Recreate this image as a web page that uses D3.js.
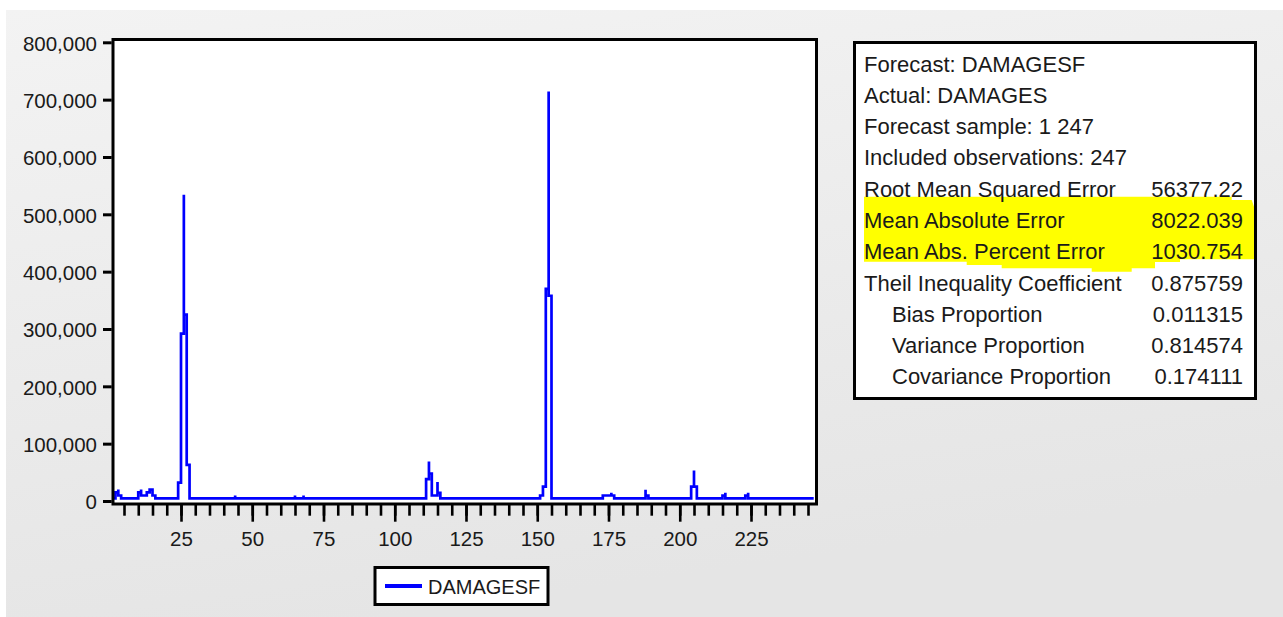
<!DOCTYPE html>
<html>
<head>
<meta charset="utf-8">
<script src="https://cdn.jsdelivr.net/npm/d3@7"></script>
<style>
  html, body { margin: 0; padding: 0; background: #ffffff; }
  text { font-family: "Liberation Sans", Arial, sans-serif; }
</style>
</head>
<body>
<div id="chart"></div>
<script>
// Size of the picture
const width = 1283;
const height = 617;

// Forecast series DAMAGESF, observations 1..247
const observations = d3.range(1, 248);
const damagesf = [
  4700, 15000, 20000, 9600, 4700, 4700, 4700, 4700, 4700, 15000,
  20000, 9600, 15000, 20000, 20000, 9600, 4700, 4700, 4700, 4700,
  4700, 4700, 4700, 32000, 292000, 534000, 325000, 63000, 4700, 4700,
  4700, 4700, 4700, 4700, 4700, 4700, 4700, 4700, 4700, 4700,
  4700, 4700, 4700, 9600, 4700, 4700, 4700, 4700, 4700, 4700,
  4700, 4700, 4700, 4700, 4700, 4700, 4700, 4700, 4700, 4700,
  4700, 4700, 4700, 4700, 9600, 4700, 4700, 9600, 4700, 4700,
  4700, 4700, 4700, 4700, 4700, 4700, 4700, 4700, 4700, 4700,
  4700, 4700, 4700, 4700, 4700, 4700, 4700, 4700, 4700, 4700,
  4700, 4700, 4700, 4700, 4700, 4700, 4700, 4700, 4700, 4700,
  4700, 4700, 4700, 4700, 4700, 4700, 4700, 4700, 4700, 4700,
  38000, 69000, 48000, 9600, 33000, 14000, 4700, 4700, 4700, 4700,
  4700, 4700, 4700, 4700, 4700, 4700, 4700, 4700, 4700, 4700,
  4700, 4700, 4700, 4700, 4700, 4700, 4700, 4700, 4700, 4700,
  4700, 4700, 4700, 4700, 4700, 4700, 4700, 4700, 4700, 4700,
  9600, 25000, 370000, 714000, 358000, 4700, 4700, 4700, 4700, 4700,
  4700, 4700, 4700, 4700, 4700, 4700, 4700, 4700, 4700, 4700,
  4700, 4700, 9600, 9600, 9600, 14500, 9600, 4700, 4700, 4700,
  4700, 4700, 4700, 4700, 4700, 4700, 4700, 19500, 9600, 4700,
  4700, 4700, 4700, 4700, 4700, 4700, 4700, 4700, 4700, 4700,
  4700, 4700, 4700, 25000, 53000, 25000, 4700, 4700, 4700, 4700,
  4700, 4700, 4700, 4700, 9600, 14500, 4700, 4700, 4700, 4700,
  4700, 4700, 9600, 14500, 4700, 4700, 4700, 4700, 4700, 4700,
  4700, 4700, 4700, 4700, 4700, 4700, 4700, 4700, 4700, 4700,
  4700, 4700, 4700, 4700, 4700, 4700, 4700
];

// Axis ticks
const yTicks = [0, 100000, 200000, 300000, 400000, 500000, 600000, 700000, 800000];
const xMinorTicks = d3.range(5, 246, 5);
const xMajorTicks = [25, 50, 75, 100, 125, 150, 175, 200, 225];

// Forecast evaluation table
const headerLines = ["Forecast: DAMAGESF", "Actual: DAMAGES", "Forecast sample: 1 247", "Included observations: 247"];
const statLabels = ["Root Mean Squared Error", "Mean Absolute Error", "Mean Abs. Percent Error",
                    "Theil Inequality Coefficient", "Bias Proportion", "Variance Proportion", "Covariance Proportion"];
const statValues = ["56377.22", "8022.039", "1030.754", "0.875759", "0.011315", "0.814574", "0.174111"];
const statIndent = [false, false, false, false, true, true, true];

const seriesName = "DAMAGESF";

const svg = d3.select("#chart")
    .append("svg")
    .attr("width", width)
    .attr("height", height);

// light grey backdrop of the graph window
const grad = svg.append("defs").append("linearGradient")
    .attr("id", "bg").attr("x1", 0).attr("y1", 0).attr("x2", 0.3).attr("y2", 1);
grad.append("stop").attr("offset", "0%").attr("stop-color", "#f3f3f3");
grad.append("stop").attr("offset", "100%").attr("stop-color", "#e5e5e5");

svg.append("rect")
    .attr("x", 6).attr("y", 10)
    .attr("width", width - 6).attr("height", height - 10)
    .attr("fill", "url(#bg)");

// Scales
const x = d3.scaleLinear().domain([1, 247]).range([112.6, 813.7]);
const y = d3.scaleLinear().domain([0, 800000]).range([501, 42.3]);

// plot area
const frame = { left: 113, top: 39.5, right: 816.5, bottom: 504 };

svg.append("rect")
    .attr("x", frame.left).attr("y", frame.top)
    .attr("width", frame.right - frame.left)
    .attr("height", frame.bottom - frame.top)
    .attr("fill", "#ffffff");

// The original is a low-res screen grab: every jump is drawn as a vertical
// run in the column of the higher of the two observations.
let stepped = [[observations[0], damagesf[0]]];
damagesf.forEach(function(v, i) {
    if (i === 0) return;
    const prev = damagesf[i - 1];
    if (v > prev) {
        stepped.push([observations[i], prev]);
        stepped.push([observations[i], v]);
    } else {
        stepped.push([observations[i - 1], v]);
        stepped.push([observations[i], v]);
    }
});

const line = d3.line()
    .x(function(d) { return x(d[0]); })
    .y(function(d) { return y(d[1]); });

svg.append("path")
    .datum(stepped)
    .attr("d", line)
    .attr("fill", "none")
    .attr("stroke", "#0000ff")
    .attr("stroke-width", 2.7);

// frame on top of the line
svg.append("rect")
    .attr("x", frame.left).attr("y", frame.top)
    .attr("width", frame.right - frame.left)
    .attr("height", frame.bottom - frame.top)
    .attr("fill", "none")
    .attr("stroke", "#000")
    .attr("stroke-width", 3);

// Y axis
const yAxis = svg.append("g")
    .attr("transform", "translate(111.7,0)")
    .call(d3.axisLeft(y).tickValues(yTicks).tickSize(8.7).tickPadding(6).tickFormat(d3.format(",")));

// X axis: minor ticks every 5, longer ticks every 25 with labels
const xMinor = svg.append("g")
    .attr("transform", "translate(0,505)")
    .call(d3.axisBottom(x).tickValues(xMinorTicks).tickSize(10.7).tickFormat(""));

const xMajor = svg.append("g")
    .attr("transform", "translate(0,505)")
    .call(d3.axisBottom(x).tickValues(xMajorTicks).tickSize(16.7).tickPadding(9.3));

[yAxis, xMinor, xMajor].forEach(function(g) {
    g.select(".domain").remove();
    g.selectAll(".tick line").attr("stroke", "#000").attr("stroke-width", 2.6);
    g.selectAll(".tick text")
        .attr("fill", "#1a1a1a")
        .style("font-size", "20.5px");
});
yAxis.selectAll(".tick line").attr("stroke-width", 3);
yAxis.selectAll(".tick text").attr("dy", "0.38em");

// Legend
const legend = svg.append("g");
legend.append("rect")
    .attr("x", 375).attr("y", 567.5)
    .attr("width", 173).attr("height", 37)
    .attr("fill", "#fff")
    .attr("stroke", "#000")
    .attr("stroke-width", 3);
legend.append("line")
    .attr("x1", 385).attr("x2", 422)
    .attr("y1", 586).attr("y2", 586)
    .attr("stroke", "#0000ff")
    .attr("stroke-width", 4);
legend.append("text")
    .attr("x", 428).attr("y", 594)
    .attr("fill", "#1a1a1a")
    .style("font-size", "20px")
    .text(seriesName);

// Forecast evaluation box
const box = { left: 854.5, top: 42.5, right: 1255.5, bottom: 398.5 };
const rowY = function(i) { return 71.7 + 31.26 * i; };

svg.append("rect")
    .attr("x", box.left).attr("y", box.top)
    .attr("width", box.right - box.left)
    .attr("height", box.bottom - box.top)
    .attr("fill", "#fff")
    .attr("stroke", "#000")
    .attr("stroke-width", 3);

// hand drawn yellow marker behind the two MAE rows
const hl = [
    [864, 196.7], [1231.7, 196.7], [1231.7, 200], [1251.7, 200], [1254, 206.7], [1254, 259.3],
    [1180, 259.3], [1180, 262], [1155, 262], [1155, 268.3], [1131.7, 268.3], [1131.7, 271.7],
    [1091.7, 271.7], [1091.7, 268.3], [1001.7, 268.3], [1001.7, 265], [966.7, 265], [966.7, 261.7],
    [864, 261.7]
];
svg.append("path")
    .attr("d", "M" + hl.join("L") + "Z")
    .attr("fill", "#ffff00");

const table = svg.append("g")
    .style("font-size", "22px")
    .attr("fill", "#1a1a1a");

table.selectAll("text.head")
    .data(headerLines)
    .join("text")
    .attr("class", "head")
    .attr("x", 864)
    .attr("y", function(d, i) { return rowY(i); })
    .text(function(d) { return d; });

table.selectAll("text.label")
    .data(statLabels)
    .join("text")
    .attr("class", "label")
    .attr("x", function(d, i) { return statIndent[i] ? 892 : 864; })
    .attr("y", function(d, i) { return rowY(i + headerLines.length); })
    .text(function(d) { return d; });

table.selectAll("text.value")
    .data(statValues)
    .join("text")
    .attr("class", "value")
    .attr("x", 1243)
    .attr("y", function(d, i) { return rowY(i + headerLines.length); })
    .attr("text-anchor", "end")
    .text(function(d) { return d; });
</script>
</body>
</html>
